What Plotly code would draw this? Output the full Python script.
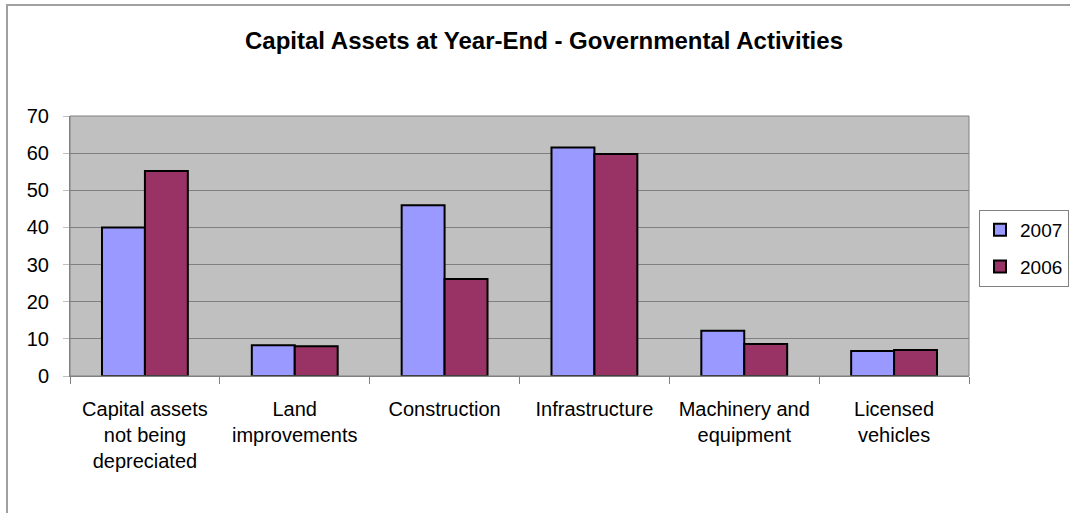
import plotly.graph_objects as go

categories = ["Capital assets<br>not being<br>depreciated", "Land<br>improvements", "Construction",
              "Infrastructure", "Machinery and<br>equipment", "Licensed<br>vehicles"]
values_2007 = [40, 8.3, 46, 61.5, 12.2, 6.7]
values_2006 = [55.2, 8.0, 26.1, 59.8, 8.6, 7.0]
y_ticks = [0, 10, 20, 30, 40, 50, 60, 70]

FONT = "Liberation Sans, Arial, sans-serif"

fig = go.Figure()
fig.add_trace(go.Bar(x=categories, y=values_2007, name="2007", legendgroup="a",
                     marker=dict(color="#9999FF", line=dict(color="black", width=2))))
fig.add_trace(go.Bar(x=categories, y=values_2006, name="2006", legendgroup="b",
                     marker=dict(color="#993366", line=dict(color="black", width=2))))

L, R, T, B = 70, 101, 116, 137
W, H = 1070, 513
pw, ph = W - L - R, H - T - B

def px(x):
    return (x - L) / pw

def py(y):
    return (H - B - y) / ph

fig.update_layout(
    width=W, height=H,
    margin=dict(l=L, r=R, t=T, b=B, autoexpand=False),
    paper_bgcolor="white",
    plot_bgcolor="#C0C0C0",
    barmode="group",
    bargap=0.427,
    bargroupgap=0,
    font=dict(family=FONT, size=20, color="black"),
    title=dict(text="<b>Capital Assets at Year-End - Governmental Activities</b>",
               x=544 / W, xref="container", xanchor="center",
               y=1 - 41 / H, yanchor="middle",
               font=dict(family=FONT, size=24, color="black")),
    legend=dict(x=px(979), y=py(210), xanchor="left", yanchor="top",
                bgcolor="white", bordercolor="#808080", borderwidth=1,
                font=dict(family=FONT, size=19), traceorder="grouped",
                tracegroupgap=9, itemwidth=30),
    xaxis=dict(showline=True, linecolor="#808080", linewidth=1,
               ticks="outside", tickson="boundaries", tickcolor="#808080", ticklen=7,
               showgrid=False, tickfont=dict(family=FONT, size=20),
               ticklabelstandoff=15),
    yaxis=dict(range=[0, 70], tickvals=y_ticks, showline=True, linecolor="#808080", linewidth=1,
               ticks="outside", tickcolor="#C0C0C0", ticklen=6,
               showgrid=True, gridcolor="#808080", gridwidth=1,
               tickfont=dict(family=FONT, size=20), zeroline=False,
               ticklabelstandoff=10),
    shapes=[
        dict(type="rect", xref="paper", yref="paper",
             x0=px(7), x1=px(1100), y0=py(540), y1=py(5),
             line=dict(color="#A0A0A0", width=2), fillcolor="rgba(0,0,0,0)", layer="below"),
        dict(type="rect", xref="paper", yref="paper", x0=0, x1=1, y0=0, y1=1,
             line=dict(color="#808080", width=1), fillcolor="rgba(0,0,0,0)"),
    ],
)

fig.write_html("out.html")
